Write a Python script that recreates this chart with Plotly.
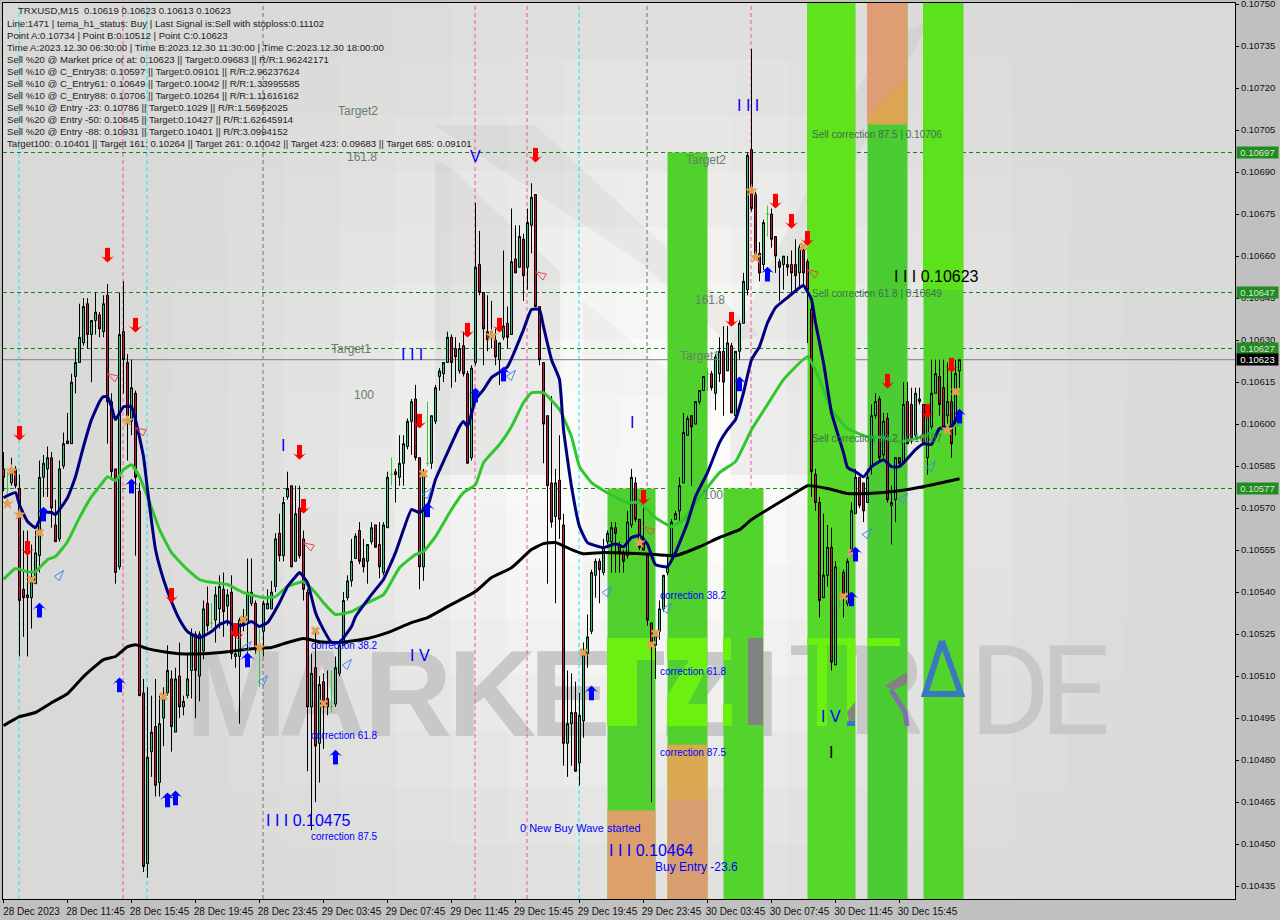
import math
import plotly.graph_objects as go

# ---------- price data (units of 0.00001) ----------
opens = [
10584,10577,10579,10584,10577,10541,10538,10538,10543,10553,
10581,10584,10588,10564,10559,10585,10594,10593,10617,10622,
10629,10643,10632,10637,10639,10633,10646,10608,10584,10549,
10633,10622,10601,10611,10576,10504,10443,10483,10492,10472,
10495,10504,10509,10490,10510,10499,10503,10512,10525,10510,
10519,10536,10529,10530,10534,10541,10535,10540,10517,10517,
10530,10529,10536,10536,10520,10526,10534,10534,10542,10561,
10553,10574,10578,10551,10570,10559,10540,10499,10513,10486,
10508,10502,10499,10500,10511,10521,10538,10544,10552,10562,
10552,10551,10558,10564,10557,10547,10563,10582,10583,10581,
10586,10592,10601,10609,10588,10549,10586,10586,10601,10617,
10618,10622,10631,10627,10619,10628,10618,10588,10622,10657,
10647,10633,10631,10630,10623,10631,10636,10632,10659,10656,
10666,10656,10671,10682,10642,10622,10603,10579,10567,10580,
10564,10486,10493,10497,10479,10494,10518,10526,10546,10551,
10547,10558,10558,10563,10557,10554,10553,10564,10579,10566,
10559,10553,10529,10521,10526,10534,10547,10553,10566,10569,
10579,10596,10603,10600,10608,10612,10618,10618,10611,10618,
10626,10619,10628,10603,10626,10636,10648,10698,10682,10661,
10657,10675,10675,10667,10658,10657,10657,10657,10657,10654,
10662,10658,10641,10582,10572,10538,10546,10556,10514,10538,
10547,10536,10555,10568,10581,10579,10572,10585,10603,10609,
10589,10602,10571,10573,10588,10586,10608,10607,10596,10609,
10607,10588,10599,10611,10617,10613,10603,10608,10601,10619]
highs = [
10590,10583,10588,10585,10582,10562,10562,10557,10562,10587,
10589,10592,10590,10573,10587,10597,10604,10618,10627,10643,
10645,10645,10637,10647,10640,10646,10650,10611,10584,10647,
10651,10625,10623,10612,10579,10509,10506,10503,10509,10503,
10506,10521,10512,10513,10522,10503,10518,10527,10526,10526,
10537,10542,10536,10542,10546,10547,10541,10546,10528,10531,
10534,10552,10552,10537,10527,10537,10541,10544,10561,10568,
10574,10583,10578,10578,10578,10562,10541,10518,10527,10510,
10511,10512,10512,10517,10523,10540,10546,10559,10561,10565,
10559,10557,10565,10564,10565,10565,10583,10588,10584,10596,
10596,10602,10609,10614,10588,10584,10608,10603,10614,10620,
10622,10633,10632,10631,10629,10633,10619,10621,10679,10669,
10647,10646,10644,10634,10629,10662,10642,10677,10671,10671,
10668,10677,10686,10682,10642,10622,10603,10610,10584,10596,
10568,10512,10511,10508,10504,10522,10532,10548,10552,10552,
10559,10562,10565,10565,10558,10555,10569,10584,10581,10566,
10571,10554,10529,10526,10537,10546,10553,10566,10569,10581,
10604,10603,10603,10608,10612,10617,10620,10619,10625,10631,
10635,10635,10629,10626,10637,10654,10697,10734,10683,10665,
10673,10678,10677,10667,10659,10660,10660,10662,10666,10664,
10664,10659,10644,10584,10574,10568,10564,10563,10551,10549,
10548,10552,10572,10584,10581,10579,10584,10607,10611,10610,
10604,10604,10578,10588,10588,10615,10615,10613,10613,10613,
10607,10606,10623,10623,10623,10623,10622,10619,10623,10623]
lows = [
10576,10574,10578,10577,10517,10524,10517,10527,10543,10547,
10574,10574,10563,10558,10558,10584,10593,10593,10611,10622,
10628,10627,10615,10632,10631,10631,10593,10580,10543,10548,
10611,10587,10596,10553,10503,10440,10438,10474,10467,10467,
10485,10503,10483,10490,10495,10496,10502,10502,10495,10501,
10516,10526,10527,10522,10527,10524,10528,10516,10513,10493,
10526,10517,10535,10518,10506,10517,10534,10534,10540,10551,
10551,10573,10549,10551,10552,10537,10476,10455,10465,10472,
10484,10496,10497,10499,10510,10521,10537,10542,10552,10550,
10547,10543,10557,10556,10545,10546,10563,10578,10572,10578,
10578,10591,10589,10587,10541,10544,10585,10584,10600,10612,
10615,10622,10613,10615,10618,10617,10586,10587,10621,10646,
10621,10626,10627,10621,10614,10630,10627,10632,10654,10656,
10644,10648,10661,10642,10621,10586,10543,10563,10536,10559,
10478,10474,10478,10476,10471,10488,10513,10525,10538,10536,
10546,10557,10547,10547,10547,10547,10552,10563,10565,10555,
10555,10528,10465,10509,10523,10533,10546,10552,10566,10565,
10579,10596,10578,10600,10607,10612,10612,10612,10605,10615,
10603,10619,10604,10602,10623,10636,10646,10676,10659,10651,
10655,10667,10663,10654,10644,10648,10653,10647,10648,10649,
10649,10629,10574,10569,10531,10538,10542,10512,10514,10534,
10531,10535,10553,10568,10570,10565,10572,10582,10602,10587,
10588,10572,10557,10565,10585,10586,10593,10593,10595,10607,
10593,10582,10598,10611,10603,10599,10598,10588,10596,10613]
closes = [
10581,10577,10583,10578,10537,10538,10539,10544,10554,10581,
10586,10588,10570,10558,10584,10593,10593,10615,10622,10631,
10642,10632,10637,10640,10634,10643,10608,10583,10547,10632,
10623,10603,10613,10581,10503,10442,10481,10490,10471,10493,
10503,10512,10492,10509,10499,10501,10509,10525,10512,10525,
10534,10528,10529,10539,10542,10533,10539,10518,10518,10530,
10528,10540,10540,10520,10520,10536,10536,10540,10559,10553,
10572,10577,10549,10568,10553,10541,10499,10511,10485,10507,
10499,10499,10499,10513,10521,10537,10544,10551,10560,10551,
10549,10557,10563,10556,10549,10564,10581,10582,10582,10586,
10593,10601,10608,10588,10549,10582,10586,10603,10613,10619,
10622,10631,10622,10624,10627,10618,10586,10620,10656,10647,
10634,10630,10633,10624,10629,10635,10631,10658,10654,10667,
10653,10672,10681,10642,10623,10600,10578,10565,10579,10566,
10486,10493,10497,10476,10496,10518,10524,10547,10551,10548,
10556,10561,10563,10561,10554,10551,10565,10581,10566,10556,
10555,10530,10521,10525,10534,10546,10549,10565,10568,10578,
10597,10602,10599,10608,10612,10617,10618,10613,10624,10626,
10615,10629,10604,10626,10636,10651,10696,10677,10660,10654,
10672,10675,10666,10660,10656,10660,10656,10654,10653,10663,
10654,10648,10583,10572,10537,10546,10556,10515,10549,10538,
10538,10551,10569,10581,10571,10569,10581,10603,10608,10588,
10601,10573,10572,10588,10586,10607,10593,10595,10611,10608,
10593,10605,10611,10618,10607,10599,10608,10593,10618,10623]

navy_i = [0,3,4,6,8,10,12,13,16,18,20,22,24,25,26,27,28,30,32,33,35,36,38,40,42,44,46,49,52,54,56,58,60,62,64,66,69,71,73,74,76,78,80,82,84,87,88,92,95,98,100,102,104,106,108,111,114,115,116,118,120,122,126,129,130,132,134,135,137,139,140,142,144,146,150,153,155,157,159,161,163,166,168,171,173,176,179,181,183,185,187,189,191,193,196,199,200,202,203,205,207,210,211,213,215,217,220,222,224,228,230,232,234,237,239]
navy_v = [10573.7,10575.5,10571.2,10565.2,10563,10568.4,10568.4,10567.7,10573.7,10581.2,10592,10601.6,10608,10609.8,10609.8,10606.2,10601.6,10606.2,10606.2,10601.6,10588.4,10576.6,10555.2,10544.5,10536.6,10530.2,10525.9,10523.7,10525.9,10528.4,10529.5,10527.7,10528.4,10529.5,10527.7,10529.1,10536.2,10542,10545.5,10547,10543.4,10532.7,10526.6,10522,10522,10527.7,10531.2,10539.1,10544.5,10554.1,10562.3,10569.5,10568.4,10570.5,10580.2,10589.8,10599.1,10600.9,10599.1,10608.7,10612.3,10616.6,10620.5,10630.2,10633.7,10640.9,10640.9,10634.8,10623,10615.9,10598,10577.7,10563.4,10557.7,10555.9,10557.3,10556.2,10559.5,10560.2,10557,10549.8,10549.1,10554.1,10564.8,10574.1,10582.7,10593.4,10598,10601.6,10611.2,10623,10627.7,10636.2,10641.6,10645.2,10648.7,10649.5,10644.5,10636.2,10622,10604.1,10589.8,10584.5,10583,10581.2,10584.8,10587.3,10584.8,10584.8,10590.9,10593,10592.7,10598.4,10599.1,10604.5]
lime_i = [0,3,6,8,11,13,16,19,22,24,26,28,30,32,34,36,39,42,46,49,51,56,60,65,68,71,75,78,80,83,87,91,95,99,103,105,108,112,115,118,120,124,127,130,132,135,139,142,144,147,151,156,159,163,167,170,174,179,183,187,191,195,201,204,207,211,216,220,224,229,234,239]
lime_v = [10544.5,10548.4,10547.3,10547.3,10551.6,10552.7,10558,10566.6,10574.1,10577.7,10581.2,10579.8,10583.7,10585.5,10581.2,10574.1,10562.3,10554.1,10548,10544.5,10543.7,10542.7,10539.8,10538,10538.4,10542,10543.7,10539.8,10536.2,10532,10533,10536.2,10539.1,10548.7,10553.4,10554.5,10559.8,10569.5,10575.5,10578.4,10586.2,10592.7,10599.1,10607.7,10611.2,10611.2,10605.2,10595.5,10584.8,10579.1,10575.5,10572,10572,10566.6,10563.4,10565.9,10573.7,10582.7,10586.6,10598,10607,10615.9,10624.1,10615.9,10605.2,10598.4,10595.5,10595.2,10593.7,10595.2,10598,10599.8]
black_i = [0,4,8,12,16,20,25,28,31,33,36,40,44,50,56,62,67,71,75,79,84,91,96,102,106,111,118,122,127,132,135,138,142,145,150,163,168,174,179,184,187,193,198,201,206,211,216,224,231,239]
black_v = [10492.3,10495.5,10497,10500.5,10503.7,10509.8,10515.9,10517,10520.5,10521.2,10519.8,10518.7,10518,10518,10518.7,10519.8,10520.2,10522,10523.4,10522.3,10522,10523.4,10525.5,10529.1,10530.9,10534.8,10540.2,10545.2,10548.7,10555.2,10557.3,10557.7,10555.2,10553.7,10554.1,10553.4,10553,10556.2,10559.5,10562.3,10565.9,10571.2,10575.5,10578,10577,10575.2,10575.2,10576.2,10578,10580.5]

sell_i = [4,26,33,6,42,74,75,58,104,116,124,133,160,182,193,197,201,221,231,237]
sell_p = [10594.1,10657.7,10632.7,10553,10536.2,10587.3,10568,10523.7,10598.4,10630.9,10632.7,10693.4,10571.2,10634.8,10677,10669.8,10663.7,10612.7,10602,10618.4]
buy_i = [9,29,10,32,41,43,61,83,106,118,125,147,184,191,212,213,239]
buy_p = [10536.2,10509.5,10570.5,10580.5,10468.4,10469.1,10518.4,10483.7,10572,10613,10620.5,10506.6,10617,10656.2,10540.2,10556.2,10605.5]
hollow_blue_i = [15,62,66,87,107,128,152,167,217,226,233]
hollow_blue_p = [10547.7,10522.4,10510.2,10516,10577,10619.2,10542,10536,10562.7,10575.2,10586.7]
hollow_red_i = [26,33,75,133,160,201,57]
hollow_red_p = [10618,10598.7,10557.6,10654.4,10563.3,10655.1,10525.8]
star_i = [2,1,4,31,64,122,159,187,188,236]
star_p = [10583.4,10571.6,10567.7,10601.2,10520.2,10631.6,10557.7,10683.4,10659.5,10598]
cross_i = [9,7,40,60,78,80,105,145,163,162,200,212,210,238]
cross_p = [10561.2,10544.5,10502.7,10530.2,10526.2,10500.2,10582.3,10518.4,10525.2,10521.2,10663.4,10554.1,10538.4,10611.6]

level_prices = [0.10697, 0.10647, 0.10627, 0.10577]
last_price = 0.10623
pink_bars = [30, 118, 131, 187]
cyan_bars = [4, 36, 144]
grey_bars = [65, 161]

band_start = [151, 166, 180, 201, 216, 230]
band_end = [163, 176, 190, 213, 226, 240]
band_top = [0.10577, 0.10697, 0.10577, 0.1076, 0.1076, 0.1076]
band_fill = ['#4FD02E', '#50D12E', '#52D42C', '#55D829', '#4CCC33', '#52D42C']

tick_labels = ['28 Dec 2023','28 Dec 11:45','28 Dec 15:45','28 Dec 19:45','28 Dec 23:45','29 Dec 03:45','29 Dec 07:45','29 Dec 11:45','29 Dec 15:45','29 Dec 19:45','29 Dec 23:45','30 Dec 03:45','30 Dec 07:45','30 Dec 11:45','30 Dec 15:45']
header_lines = [
 'TRXUSD,M15  0.10619 0.10623 0.10613 0.10623',
 'Line:1471 | tema_h1_status: Buy | Last Signal is:Sell with stoploss:0.11102',
 'Point A:0.10734 | Point B:0.10512 | Point C:0.10623',
 'Time A:2023.12.30 06:30:00 | Time B:2023.12.30 11:30:00 | Time C:2023.12.30 18:00:00',
 'Sell %20 @ Market price or at: 0.10623 || Target:0.09683 || R/R:1.96242171',
 'Sell %10 @ C_Entry38: 0.10597 || Target:0.09101 || R/R:2.96237624',
 'Sell %10 @ C_Entry61: 0.10649 || Target:0.10042 || R/R:1.33995585',
 'Sell %10 @ C_Entry88: 0.10706 || Target:0.10264 || R/R:1.11616162',
 'Sell %10 @ Entry -23: 0.10786 || Target:0.1029 || R/R:1.56962025',
 'Sell %20 @ Entry -50: 0.10845 || Target:0.10427 || R/R:1.62645914',
 'Sell %20 @ Entry -88: 0.10931 || Target:0.10401 || R/R:3.0994152',
 'Target100: 0.10401 || Target 161: 0.10264 || Target 261: 0.10042 || Target 423: 0.09683 || Target 685: 0.09101']

# ---------- helpers ----------
L, T, PW, PH = 3, 3, 1232, 896
Y_TOP = 0.10697 + 149.5 / 280000
Y_BOT = Y_TOP - PH / 280000
def P(v): return [a / 1e5 for a in v]
def px(x): return (x - L) / PW
def py(y): return 1 - (y - T) / PH
def dx(x): return (x - 3.5) / 4
def dy(y): return Y_TOP - (y - T) / 280000
def back_rect(x0, y0, x1, y1, color):
    return dict(type='rect', xref='paper', yref='paper', x0=px(x0), x1=px(x1), y0=py(y0), y1=py(y1),
                fillcolor=color, line_width=0, layer='below')
def back_poly(pts, color):
    d = 'M' + 'L'.join(f'{px(a):.5f},{py(b):.5f}' for a, b in pts) + 'Z'
    return dict(type='path', xref='paper', yref='paper', path=d, layer='below', fillcolor=color, line_width=0)
def rect(x0, y0, x1, y1, color):
    return dict(type='rect', xref='x', yref='y', x0=dx(x0), x1=dx(x1), y0=dy(y1), y1=dy(y0),
                fillcolor=color, line_width=0, layer='below')
def poly(pts, color, line=None, width=0):
    d = 'M' + 'L'.join(f'{dx(a):.3f},{dy(b):.7f}' for a, b in pts) + ('' if line else 'Z')
    s = dict(type='path', xref='x', yref='y', path=d, layer='below')
    if line:
        s.update(line=dict(color=line, width=width), fillcolor='rgba(0,0,0,0)')
    else:
        s.update(fillcolor=color, line_width=0)
    return s

shapes = []
# background glow
cw, ch = 56, 56
for r in range(17):
    for c in range(23):
        x0, y0 = L + c * cw, T + r * ch
        cx, cy = x0 + cw / 2, y0 + ch / 2
        v = int(217 + 37 * math.exp(-((cx - 650) / 300) ** 2 - ((cy - 470) / 340) ** 2))
        shapes.append(back_rect(x0, y0, min(x0 + cw + 1, L + PW), min(y0 + ch + 1, T + PH), f'rgb({v},{v},{v-1})'))
# faint logo
shapes.append(back_poly([(435,160),(435,475),(560,475),(560,272),(453,170)], 'rgba(150,150,150,0.12)'))
shapes.append(back_poly([(435,125),(535,125),(760,335),(730,345),(640,262)], 'rgba(150,150,150,0.10)'))
shapes.append(back_poly([(730,345),(730,475),(807,475),(807,250),(930,20),(880,45)], 'rgba(150,150,150,0.10)'))
shapes.append(back_poly([(583,300),(583,600),(615,600),(690,475),(730,345),(690,390)], 'rgba(150,150,150,0.07)'))
# watermark letters
for ch_, cx_, bold in [('M',236,1),('A',322,1),('R',408,1),('K',492,1),('E',570,1),('T',628,1),('Z',700,1),('I',763,1),
                       ('T',825,0),('R',885,0),('D',1010,0),('E',1075,0)]:
    txt = f'<b>{ch_}</b>' if bold else ch_
    shapes.append(dict(type='rect', xref='paper', yref='paper', x0=px(cx_-70), x1=px(cx_+70), y0=py(752), y1=py(612),
                       fillcolor='rgba(0,0,0,0)', line_width=0, layer='below',
                       label=dict(text=txt, textposition='middle center', padding=0,
                                  font=dict(family='Liberation Sans' if bold else 'Roboto', size=122 if bold else 124, color='#c8c8c8'))))
# correction zones
for a, b, top, col in zip(band_start, band_end, band_top, band_fill):
    shapes.append(dict(type='rect', xref='x', yref='y', x0=a, x1=b, y0=0.1043, y1=top, fillcolor=col, line_width=0, layer='below'))
# zone tints
shapes.append(dict(type='rect', xref='x', yref='y', x0=151, x1=163, y0=0.1043, y1=0.10462, fillcolor='#DDA06B', line_width=0, layer='below'))
shapes.append(dict(type='rect', xref='x', yref='y', x0=166, x1=176, y0=0.1043, y1=0.104855, fillcolor='#DCA852', line_width=0, layer='below'))
shapes.append(dict(type='rect', xref='x', yref='y', x0=166, x1=176, y0=0.1043, y1=0.10466, fillcolor='#D99E70', line_width=0, layer='below'))
shapes.append(dict(type='rect', xref='x', yref='y', x0=216, x1=226, y0=0.10707, y1=0.1076, fillcolor='#DCA552', line_width=0, layer='below'))
shapes.append(poly([(867,3),(907,3),(907,75),(867,120)], '#DE9D72'))
shapes.append(poly([(807,3),(855,3),(855,295),(807,295)], '#5EE31C'))
shapes.append(poly([(923,3),(963,3),(963,290),(923,290)], '#5CE11D'))
lime = '#6CF010'
for r_ in [(607,638,637,726),(637,638,655,660),(667,638,707,660),(667,704,707,726),(723,638,731,660),(723,704,732,726),
           (807,638,855,645),(817,645,827,726),(847,645,855,726),(867,638,900,646)]:
    shapes.append(rect(*r_, lime))
shapes.append(poly([(689,660),(707,660),(707,668),(688,704),(667,704),(667,696)], lime))
shapes.append(rect(748,638,763,725,'#828282'))
shapes.append(poly([(850,726),(855,726),(855,702),(847,712)], '#828282'))
shapes.append(rect(847,721,855,726,'#3A78C0'))
shapes.append(poly([(885,686),(905,673),(907,673),(907,684),(893,690)], '#828282'))
shapes.append(poly([(891,690),(905,712),(907,726)], None, line='#7A74A8', width=5))
shapes.append(poly([(942,641),(925,694),(961,694),(942,641)], None, line='#3A78C0', width=6))
# vertical period markers
for bars, col in [(pink_bars,'#F0559F'),(cyan_bars,'#16E8EC'),(grey_bars,'#707070')]:
    for b in bars:
        shapes.append(dict(type='line', xref='x', yref='paper', x0=b - 0.125, x1=b - 0.125, y0=0, y1=1, layer='below',
                           line=dict(color=col, width=1, dash='4px,3px')))
# horizontal levels
for lv in level_prices:
    shapes.append(dict(type='line', xref='paper', yref='y', x0=0, x1=1, y0=lv, y1=lv, layer='below',
                       line=dict(color='#148414', width=1, dash='4px,3px')))
shapes.append(dict(type='line', xref='paper', yref='y', x0=0, x1=1, y0=last_price, y1=last_price, layer='below',
                   line=dict(color='#7E808C', width=1)))

# ---------- traces ----------
bars = list(range(len(opens)))
reg = [i for i in bars if opens[i] != closes[i]]
doj = [i for i in bars if opens[i] == closes[i]]
def pick(v, idx): return [v[i] / 1e5 for i in idx]
fig = go.Figure()
fig.add_trace(go.Candlestick(x=reg, open=pick(opens,reg), high=pick(highs,reg), low=pick(lows,reg), close=pick(closes,reg),
    increasing=dict(line=dict(color='black', width=1), fillcolor='#2EC07F'),
    decreasing=dict(line=dict(color='black', width=1), fillcolor='#C8143C'),
    whiskerwidth=0, hoverinfo='skip', showlegend=False))
fig.add_trace(go.Candlestick(x=doj, open=pick(opens,doj), high=pick(highs,doj), low=pick(lows,doj), close=pick(closes,doj),
    increasing=dict(line=dict(color='#39C832', width=1), fillcolor='#39C832'),
    decreasing=dict(line=dict(color='#39C832', width=1), fillcolor='#39C832'),
    whiskerwidth=0, hoverinfo='skip', showlegend=False))
for xs, ys, col, w in [(black_i,black_v,'#000000',3),(lime_i,lime_v,'#2FC62F',3),(navy_i,navy_v,'#00007F',3)]:
    fig.add_trace(go.Scatter(x=xs, y=P(ys), mode='lines', line=dict(color=col, width=w, shape='spline', smoothing=0.4), hoverinfo='skip', showlegend=False))

def add_marks(xs, ys, **marker):
    fig.add_trace(go.Scatter(x=xs, y=ys, mode='markers', marker=marker, hoverinfo='skip', showlegend=False))

add_marks(star_i, P(star_p), symbol='star', size=10, color='#DFA253')
add_marks(cross_i, P(cross_p), symbol='x', size=8, color='#E3A052')
add_marks(hollow_blue_i, P(hollow_blue_p), symbol='arrow-open', size=11, angle=40, color='#4A86E8', line=dict(color='#4A86E8', width=1))
add_marks(hollow_red_i, P(hollow_red_p), symbol='arrow-open', size=11, angle=-60, color='#F0404A', line=dict(color='#F0404A', width=1))
add_marks(sell_i, [(p + 3.0) / 1e5 for p in sell_p], symbol='line-ns', size=9, color='#FF0000', line=dict(color='#FF0000', width=5))
add_marks(sell_i, P(sell_p), symbol='arrow-wide', size=11, angle=180, color='#FF0000', line=dict(width=0))
add_marks(buy_i, [(p - 3.0) / 1e5 for p in buy_p], symbol='line-ns', size=9, color='#0000FF', line=dict(color='#0000FF', width=5))
add_marks(buy_i, P(buy_p), symbol='arrow-wide', size=11, angle=0, color='#0000FF', line=dict(width=0))

# ---------- text ----------
FONT = 'Liberation Sans'
anns = []
def note(x, y, text, size=10, color='#222222', anchor='left'):
    anns.append(dict(xref='paper', yref='paper', x=px(x), y=py(y), text=text, showarrow=False, xanchor=anchor,
                     yanchor='middle', font=dict(family=FONT, size=size, color=color), borderpad=0, borderwidth=0))
for n, t in enumerate(header_lines):
    note(18 if n == 0 else 7, 10.5 + 12 * n + (1 if n else 0), t.replace(' ', '&nbsp;') if n == 0 else t, 9.6)
tg = '#66806A'
for x, y, t in [(358,111,'Target2'),(362,157,'161.8'),(351,349,'Target1'),(364,395,'100'),
                (706,160,'Target2'),(710,300,'161.8'),(700,356,'Target1'),(713,495,'100')]:
    note(x, y, t, 12, tg, 'center')
sc = '#3C6E4E'
for y, t in [(134,'Sell correction 87.5 | 0.10706'),(293,'Sell correction 61.8 | 0.10649'),(438,'Sell correction 38.2 | 0.10597')]:
    note(812, y, t, 10, sc)
blue = '#0000FF'
for x, y, t in [(311,645,'correction 38.2'),(311,735,'correction 61.8'),(311,836,'correction 87.5'),
                (660,595,'correction 38.2'),(660,671,'correction 61.8'),(660,752,'correction 87.5'),
                (520,828,'0 New Buy Wave started')]:
    note(x, y, t, 11 if t.startswith('0') else 10, blue)
note(655, 867, 'Buy Entry -23.6', 12, blue)
note(266, 820, 'I I I 0.10475', 16, blue)
note(609, 850, 'I I I 0.10464', 16, blue)
note(894, 276, 'I I I 0.10623', 16, '#000000')
for x, y, t in [(412,355,'I I I'),(420,655,'I V'),(475,156,'V'),(748,106,'I I I'),(831,716,'I V'),(283,445,'I'),(632,422,'I')]:
    note(x, y, t, 16, blue, 'center')
note(831, 752, 'I', 16, '#000000', 'center')
for lv in level_prices + [last_price]:
    y = T + (Y_TOP - lv) * 280000
    anns.append(dict(xref='paper', yref='paper', x=px(1236), y=py(y), xanchor='left', yanchor='middle',
                     text=f'{lv:.5f}', showarrow=False, width=41, height=11, align='center', borderpad=0,
                     bgcolor='#000000' if lv == last_price else '#228B22',
                     font=dict(family=FONT, size=9.5, color='#FFFFFF' if lv == last_price else '#D8E8D8')))

axis_font = dict(family=FONT, size=9.5, color='#111111')
fig.update_layout(
    width=1280, height=920, margin=dict(l=L, r=45, t=T, b=21, pad=0, autoexpand=False),
    paper_bgcolor='#C0C0C0', plot_bgcolor='#DADAD8', showlegend=False, boxgap=0.5, boxgroupgap=0,
    shapes=shapes, annotations=anns,
    xaxis=dict(range=[-0.125, 307.875], rangeslider=dict(visible=False), showgrid=False, zeroline=False, automargin=False,
               tickmode='array', tickvals=[16 * k for k in range(len(tick_labels))], ticktext=tick_labels,
               ticks='outside', ticklen=3, tickcolor='#000', tickwidth=1, tickfont=dict(family=FONT, size=10, color='#111111'),
               ticklabelshift=28, ticklabeloverflow='allow', showline=True, linecolor='#000', linewidth=1, mirror=True),
    yaxis=dict(range=[Y_BOT, Y_TOP], side='right', showgrid=False, zeroline=False, automargin=False,
               tickmode='array', tickvals=[(10435 + 15 * k) / 1e5 for k in range(22)], tickformat='.5f',
               ticks='outside', ticklen=3, tickcolor='#000', tickwidth=1, tickfont=axis_font, ticklabeloverflow='allow',
               showline=True, linecolor='#000', linewidth=1, mirror=True),
)
fig.write_html("out.html", config=dict(displayModeBar=False),
               post_script="document.body.style.margin='0';document.body.style.overflow='hidden';")
